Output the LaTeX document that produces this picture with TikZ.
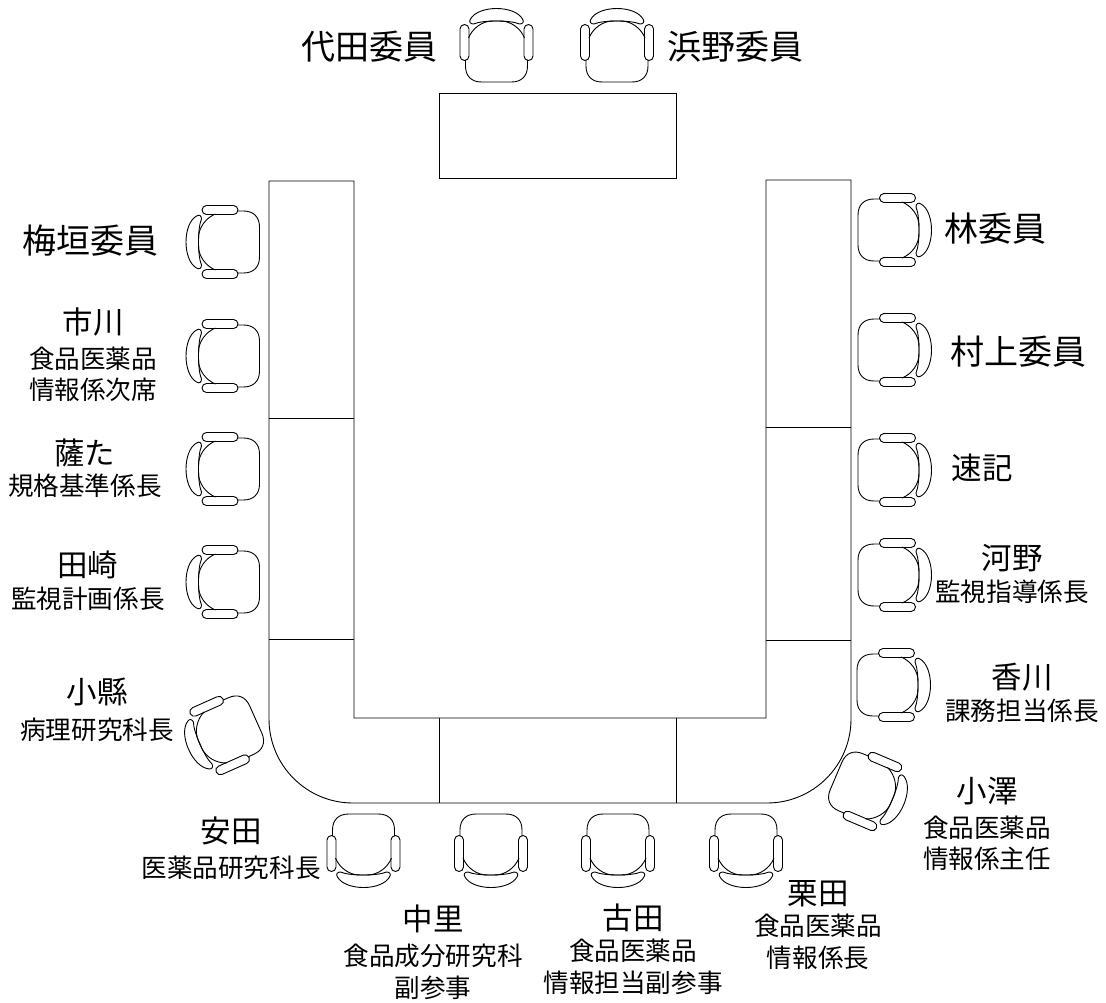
\documentclass[tikz,border=0pt]{standalone}
\usepackage{fontspec}
\setmainfont{Noto Sans CJK JP}
\newcommand{\namesize}{\fontsize{30.5}{30}\selectfont}
\tikzset{
	chair/.pic={
		\draw[chairline] (-31,10) -- (-31,16) .. controls (-31,26) and (-25,32) .. (-15,32) -- (15,32) .. controls (25,32) and (31,26) .. (31,16) -- (31,10);
		\draw[chairline] (-28,-12) .. controls (-24,-22) and (-14,-29) .. (-4,-29) -- (4,-29) .. controls (14,-29) and (24,-22) .. (28,-12);
		\draw[chairline] (-26,-31) .. controls (-18,-45) and (18,-45) .. (26,-31) .. controls (28,-28) and (26,-26) .. (23,-26) .. controls (14,-30) and (-14,-30) .. (-23,-26) .. controls (-26,-26) and (-28,-28) .. (-26,-31) -- cycle;
		\draw[chairline] (-36.5,-21) arc (-180:0:4.5) -- (-27.5,6) arc (0:180:4.5) -- cycle;
		\draw[chairline] (27.5,-21) arc (-180:0:4.5) -- (36.5,6) arc (0:180:4.5) -- cycle;
	},
	chairline/.style={line width=0.9pt},
	tableline/.style={line width=0.9pt},
	bignm/.style={inner sep=0pt,font=\fontsize{34}{36}\selectfont},
	sitelbl/.style={align=center,inner sep=0pt,font=\fontsize{25.6}{31.5}\selectfont}
}
\begin{document}
\begin{tikzpicture}[x=1pt,y=-1pt]
	\useasboundingbox (0,0) rectangle (1106,1002);

	% tables
	\draw[tableline] (439,93) rectangle (676.5,178);
	\draw[tableline] (354,718) -- (354,181) -- (269,181) -- (269,719) arc (180:90:84) -- (767,803) arc (90:0:84) -- (851,180) -- (766,180) -- (766,718) -- cycle;
	\draw[tableline] (269,418) -- (354,418);
	\draw[tableline] (269,639) -- (354,639);
	\draw[tableline] (766,427) -- (851,427);
	\draw[tableline] (766,640) -- (851,640);
	\draw[tableline] (439,718) -- (439,803);
	\draw[tableline] (676.5,718) -- (676.5,803);

	% chairs
	\pic at (496.5,50) {chair};
	\pic at (617,50) {chair};
	\pic[rotate=90] at (227.5,242) {chair};
	\pic[rotate=90] at (227.5,356) {chair};
	\pic[rotate=90] at (227.5,469) {chair};
	\pic[rotate=90] at (227.5,582) {chair};
	\pic[rotate=114] at (226.5,732.5) {chair};
	\pic[rotate=180] at (363.5,846) {chair};
	\pic[rotate=180] at (491,846) {chair};
	\pic[rotate=180] at (618,846) {chair};
	\pic[rotate=180] at (746,846) {chair};
	\pic[rotate=-113] at (865.5,788.5) {chair};
	\pic[rotate=-90] at (889,685) {chair};
	\pic[rotate=-90] at (890,575) {chair};
	\pic[rotate=-90] at (890,470) {chair};
	\pic[rotate=-90] at (890,350) {chair};
	\pic[rotate=-90] at (890,230) {chair};

	% labels
	\node[bignm] (shirota) at (369,47) {代田委員};
	\node[bignm] (hamano) at (735,47) {浜野委員};
	\node[bignm] (umegaki) at (90,241) {梅垣委員};
	\node[bignm] (hayashi) at (995,229) {林委員};
	\node[bignm] (murakami) at (1018,352) {村上委員};
	\node[sitelbl] (ichikawa) at (93,355) {{\namesize 市川}\\[3pt]食品医薬品\\情報係次席};
	\node[sitelbl] (satta) at (85,468) {{\namesize 薩た}\\規格基準係長};
	\node[sitelbl] (tasaki) at (88,581) {{\namesize 田崎}\\監視計画係長};
	\node[sitelbl] (koagata) at (97,710) {{\namesize 小縣}\\[5pt]病理研究科長};
	\node[sitelbl] (yasuda) at (231,848) {{\namesize 安田}\\[3pt]医薬品研究科長};
	\node[sitelbl] (nakazato) at (433,952) {{\namesize 中里}\\[4pt]食品成分研究科\\副参事};
	\node[sitelbl] (furuta) at (633,949) {{\namesize 古田}\\食品医薬品\\情報担当副参事};
	\node[sitelbl] (kurita) at (818,925) {{\namesize 栗田}\\食品医薬品\\情報係長};
	\node[sitelbl] (ozawa) at (987,824) {{\namesize 小澤}\\[3pt]食品医薬品\\情報係主任};
	\node[sitelbl] (kagawa) at (1022,693) {{\namesize 香川}\\課務担当係長};
	\node[sitelbl] (kawano) at (1012,574) {{\namesize 河野}\\監視指導係長};
	\node[inner sep=0pt,font=\namesize] (sokki) at (982,468) {速記};
\end{tikzpicture}
\end{document}
